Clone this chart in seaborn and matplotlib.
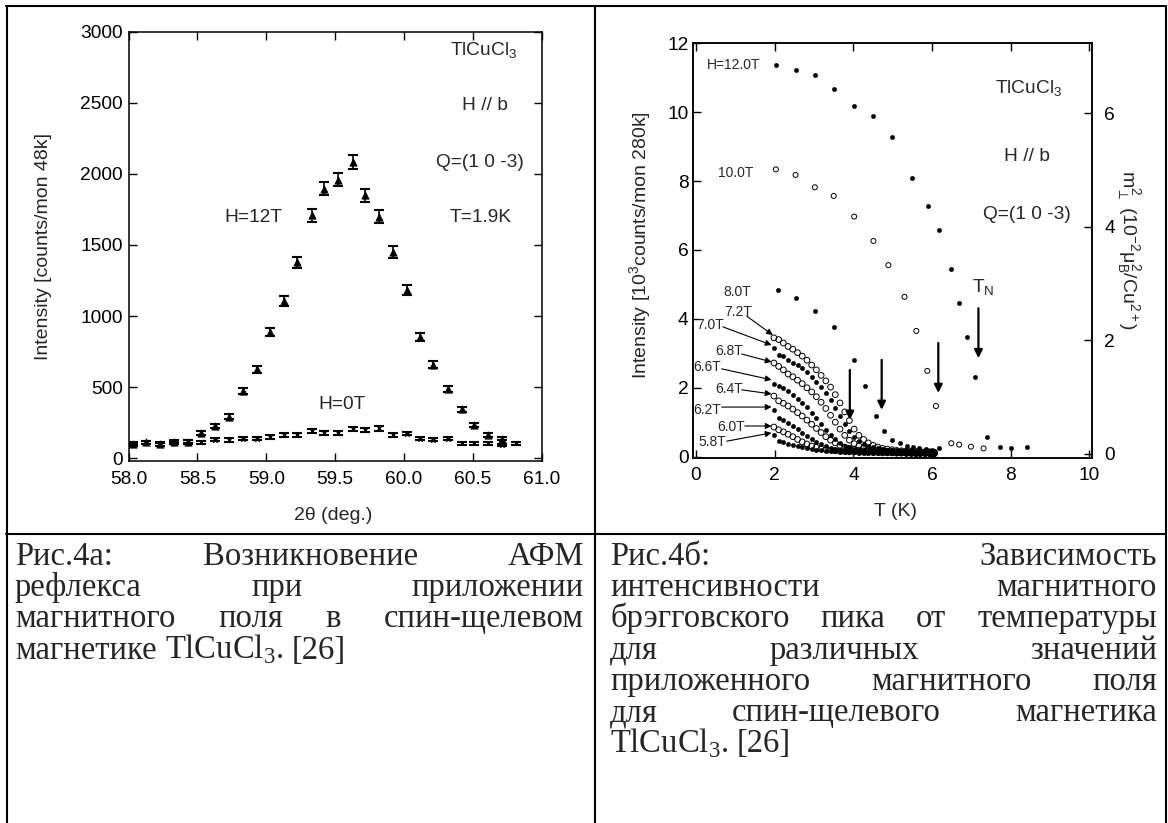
import matplotlib
matplotlib.use("Agg")
import matplotlib.pyplot as plt
from matplotlib.lines import Line2D
import seaborn as sns

# ---------------- panel (a): 2theta scans ----------------
two_theta_12T = [58.03, 58.13, 58.23, 58.33, 58.43, 58.53, 58.63, 58.73, 58.83, 58.93,
                 59.03, 59.13, 59.22, 59.33, 59.42, 59.52, 59.63, 59.72, 59.82, 59.92,
                 60.02, 60.12, 60.21, 60.32, 60.42, 60.51, 60.61, 60.71]
intensity_12T = [98, 112, 102, 118, 115, 180, 227, 292, 472, 625,
                 889, 1106, 1378, 1708, 1895, 1958, 2084, 1848, 1700, 1450,
                 1181, 854, 660, 489, 344, 234, 164, 140]
error_12T = [12, 12, 12, 12, 12, 14, 16, 18, 22, 26,
             31, 35, 39, 44, 46, 47, 48, 46, 44, 40,
             36, 30, 27, 23, 19, 16, 13, 12]

two_theta_0T = [58.03, 58.13, 58.23, 58.33, 58.43, 58.53, 58.63, 58.73, 58.83, 58.93,
                59.03, 59.13, 59.22, 59.33, 59.42, 59.52, 59.63, 59.72, 59.82, 59.92,
                60.02, 60.12, 60.21, 60.32, 60.42, 60.51, 60.61, 60.71, 60.81]
intensity_0T = [102, 115, 100, 114, 116, 112, 133, 129, 140, 140,
                152, 164, 164, 192, 180, 180, 204, 199, 211, 164,
                175, 140, 133, 140, 105, 105, 105, 94, 105]
error_0T = [11, 11, 11, 11, 11, 11, 12, 12, 12, 12,
            13, 13, 13, 14, 14, 14, 14, 14, 15, 13,
            13, 12, 12, 12, 11, 11, 11, 10, 11]

# ---------------- panel (b): intensity vs temperature ----------------
T_12T = [2.03, 2.53, 3.02, 3.50, 4.02, 4.51, 4.99, 5.49, 5.89, 6.18, 6.47, 6.69,
         6.90, 7.08, 7.40, 7.72, 8.02, 8.41]
I_12T = [11.37, 11.22, 11.08, 10.67, 10.19, 9.89, 9.27, 8.10, 7.28, 6.58, 5.46, 4.47,
         3.48, 2.32, 0.58, 0.29, 0.24, 0.29]

T_10T = [2.03, 2.53, 3.02, 3.50, 4.02, 4.51, 4.89, 5.30, 5.60, 5.88, 6.10,
         6.49, 6.69, 6.99, 7.31]
I_10T = [8.34, 8.18, 7.82, 7.57, 6.97, 6.26, 5.56, 4.64, 3.65, 2.49, 1.47,
         0.39, 0.35, 0.29, 0.24]

T_8T = [2.08, 2.55, 3.03, 3.52, 4.02, 4.30, 4.58, 4.78, 4.99, 5.19, 5.36, 5.52,
        5.68, 5.84, 6.00, 6.18]
I_8T = [4.84, 4.62, 4.23, 3.77, 2.81, 2.06, 1.19, 0.75, 0.48, 0.39, 0.31, 0.27,
        0.24, 0.22, 0.20, 0.25]

# dense scans at lower fields share one temperature list
T_dense = [1.98, 2.10, 2.22, 2.34, 2.46, 2.58, 2.70, 2.82, 2.94, 3.06, 3.18, 3.30,
           3.42, 3.54, 3.66, 3.78, 3.90, 4.02, 4.14, 4.26, 4.38, 4.50, 4.62, 4.74,
           4.86, 4.98, 5.10, 5.22, 5.34, 5.46, 5.58, 5.70, 5.82, 5.94, 6.06]
I_7_2T = [3.45, 3.40, 3.30, 3.20, 3.12, 3.02, 2.92, 2.80, 2.66, 2.52, 2.36, 2.20,
          2.02, 1.80, 1.56, 1.30, 1.05, 0.80, 0.62, 0.50, 0.40, 0.33, 0.28, 0.24,
          0.22, 0.20, 0.18, 0.17, 0.16, 0.16, 0.15, 0.15, 0.14, 0.14, 0.13]
I_7_0T = [3.15, 2.95, 2.93, 2.82, 2.72, 2.66, 2.56, 2.45, 2.32, 2.18, 2.02, 1.85,
          1.65, 1.42, 1.18, 0.95, 0.74, 0.58, 0.46, 0.38, 0.32, 0.27, 0.24, 0.21,
          0.19, 0.18, 0.17, 0.16, 0.15, 0.15, 0.14, 0.14, 0.13, 0.13, 0.12]
I_6_8T = [2.72, 2.62, 2.52, 2.40, 2.32, 2.22, 2.12, 2.00, 1.88, 1.74, 1.58, 1.40,
          1.20, 1.00, 0.80, 0.62, 0.48, 0.38, 0.31, 0.26, 0.23, 0.20, 0.18, 0.17,
          0.16, 0.15, 0.15, 0.14, 0.14, 0.13, 0.13, 0.12, 0.12, 0.12, 0.11]
I_6_6T = [2.10, 2.05, 1.98, 1.90, 1.80, 1.68, 1.56, 1.43, 1.28, 1.12, 0.95, 0.78,
          0.62, 0.50, 0.40, 0.32, 0.27, 0.23, 0.20, 0.18, 0.17, 0.16, 0.15, 0.14,
          0.14, 0.13, 0.13, 0.12, 0.12, 0.12, 0.11, 0.11, 0.11, 0.10, 0.10]
I_6_4T = [1.76, 1.62, 1.55, 1.47, 1.38, 1.28, 1.18, 1.06, 0.94, 0.82, 0.70, 0.58,
          0.48, 0.40, 0.33, 0.28, 0.24, 0.21, 0.19, 0.17, 0.16, 0.15, 0.14, 0.14,
          0.13, 0.13, 0.12, 0.12, 0.12, 0.11, 0.11, 0.11, 0.10, 0.10, 0.10]
I_6_2T = [1.36, 1.12, 1.05, 0.97, 0.88, 0.80, 0.70, 0.60, 0.51, 0.43, 0.36, 0.30,
          0.26, 0.23, 0.20, 0.18, 0.17, 0.16, 0.15, 0.14, 0.14, 0.13, 0.13, 0.12,
          0.12, 0.12, 0.11, 0.11, 0.11, 0.10, 0.10, 0.10, 0.10, 0.09, 0.09]
I_6_0T = [0.86, 0.78, 0.72, 0.65, 0.58, 0.50, 0.43, 0.37, 0.31, 0.27, 0.23, 0.21,
          0.19, 0.17, 0.16, 0.15, 0.14, 0.14, 0.13, 0.13, 0.12, 0.12, 0.12, 0.11,
          0.11, 0.11, 0.10, 0.10, 0.10, 0.10, 0.09, 0.09, 0.09, 0.09, 0.09]
I_5_8T = [0.62, 0.46, 0.42, 0.38, 0.34, 0.30, 0.27, 0.24, 0.21, 0.19, 0.18, 0.17,
          0.16, 0.15, 0.14, 0.14, 0.13, 0.13, 0.12, 0.12, 0.12, 0.11, 0.11, 0.11,
          0.10, 0.10, 0.10, 0.10, 0.09, 0.09, 0.09, 0.09, 0.08, 0.08, 0.08]

# field labels: (text, label x, label y, arrow start, arrow tip)
field_labels = [
    ("7.2T", 1.07, 4.20, (1.29, 4.08), (1.95, 3.53)),
    ("7.0T", 0.35, 3.82, (0.68, 3.77), (1.92, 3.24)),
    ("6.8T", 0.83, 3.07, (1.16, 2.98), (1.92, 2.75)),
    ("6.6T", 0.29, 2.60, (0.65, 2.55), (1.92, 2.23)),
    ("6.4T", 0.83, 1.97, (1.16, 1.94), (1.92, 1.82)),
    ("6.2T", 0.29, 1.36, (0.65, 1.44), (1.92, 1.44)),
    ("6.0T", 0.89, 0.86, (1.24, 0.89), (1.92, 0.89)),
    ("5.8T", 0.42, 0.43, (0.78, 0.45), (1.92, 0.69)),
]
# Neel temperature arrows: (T, start I, end I)
tn_arrows = [(3.91, 2.52, 1.07), (4.72, 2.81, 1.36), (6.16, 3.30, 1.85), (7.18, 4.31, 2.86)]

# ---------------- styling ----------------
W, H = 1168, 823
SANS = "Liberation Sans"
SERIF = "Liberation Serif"
sns.set_theme(style="ticks")
plt.rcParams.update({
    "font.family": [SANS, "DejaVu Sans"],
    "mathtext.fontset": "custom",
    "mathtext.rm": SERIF,
    "mathtext.sf": SANS,
    "mathtext.it": SANS + ":italic",
    "axes.edgecolor": "black",
    "axes.linewidth": 1.1,
    "xtick.color": "black",
    "ytick.color": "black",
    "xtick.direction": "in",
    "ytick.direction": "in",
    "xtick.major.size": 5.5,
    "ytick.major.size": 5.5,
    "xtick.major.width": 1.0,
    "ytick.major.width": 1.0,
})
TICK_FS = 13.8
LAB_FS = 14

fig = plt.figure(figsize=(W / 100, H / 100), dpi=100)
fig.patch.set_facecolor("white")


def px_axes(x0, y0, x1, y1):
    return fig.add_axes([x0 / W, 1 - y1 / H, (x1 - x0) / W, (y1 - y0) / H])


# ---------- panel (a) ----------
axa = px_axes(128.5, 31.5, 541.7, 461)
axa.errorbar(two_theta_0T, intensity_0T, yerr=error_0T, fmt="none", ecolor="black",
             elinewidth=1.2, capsize=3.4, capthick=1.5, zorder=2)
sns.scatterplot(x=two_theta_0T, y=intensity_0T, marker="x", s=10, color="black",
                linewidth=1.0, ax=axa, zorder=3)
axa.errorbar(two_theta_12T, intensity_12T, yerr=error_12T, fmt="none", ecolor="black",
             elinewidth=1.2, capsize=3.8, capthick=1.5, zorder=2)
sns.scatterplot(x=two_theta_12T, y=intensity_12T, marker="^", s=28, color="black",
                edgecolor="black", linewidth=0.5, ax=axa, zorder=3)
axa.set_xlim(58.0, 61.0)
axa.set_ylim(-18, 3000)
axa.set_xticks([58.0, 58.5, 59.0, 59.5, 60.0, 60.5, 61.0])
axa.set_xticklabels(["58.0", "58.5", "59.0", "59.5", "60.0", "60.5", "61.0"])
axa.set_yticks([0, 500, 1000, 1500, 2000, 2500, 3000])
axa.tick_params(axis="x", labelsize=TICK_FS, pad=7, top=True)
axa.tick_params(axis="y", labelsize=TICK_FS, pad=4, right=True)
axa.set_xlabel("")
axa.set_ylabel("")
for txt, x, y in [("TlCuCl$_{\\mathsf{3}}$", 60.58, 2870), ("H // b", 60.59, 2480),
                  ("Q=(1 0 -3)", 60.55, 2082), ("T=1.9K", 60.56, 1691),
                  ("H=12T", 58.91, 1691), ("H=0T", 59.55, 381)]:
    axa.text(x, y, txt, fontsize=TICK_FS, ha="center", va="center")

# ---------- panel (b) ----------
axb = px_axes(693.3, 43.3, 1091.7, 457.7)
filled = dict(marker="o", s=10, color="black", edgecolor="black", linewidth=0.3)
hollow = dict(marker="o", s=17, facecolor="none", edgecolor="black", linewidth=0.7)
hollow_small = dict(marker="o", s=13, facecolor="none", edgecolor="black", linewidth=0.7)
sns.scatterplot(x=T_12T, y=I_12T, ax=axb, **filled)
sns.scatterplot(x=T_10T, y=I_10T, ax=axb, **hollow_small)
sns.scatterplot(x=T_8T, y=I_8T, ax=axb, **filled)
for vals, style in [(I_7_2T, hollow), (I_7_0T, filled), (I_6_8T, hollow), (I_6_6T, filled),
                    (I_6_4T, hollow), (I_6_2T, filled), (I_6_0T, hollow), (I_5_8T, filled)]:
    sns.scatterplot(x=T_dense, y=vals, ax=axb, **style)
axb.set_xlim(-0.07, 10.06)
axb.set_ylim(-0.03, 12)
axb.set_xticks([0, 2, 4, 6, 8, 10])
axb.set_yticks([0, 2, 4, 6, 8, 10, 12])
axb.tick_params(axis="x", labelsize=TICK_FS, pad=6.5, top=True)
axb.tick_params(axis="y", labelsize=TICK_FS, pad=3.5)
axb.set_xlabel("")
axb.set_ylabel("")

axb.text(0.95, 11.37, "H=12.0T", fontsize=10, ha="center", va="center")
axb.text(1.00, 8.24, "10.0T", fontsize=10, ha="center", va="center")
axb.text(1.06, 4.78, "8.0T", fontsize=10, ha="center", va="center")
for txt, lx, ly, start, tip in field_labels:
    axb.text(lx, ly, txt, fontsize=10, ha="center", va="center")
    axb.annotate("", xy=tip, xytext=start,
                 arrowprops=dict(arrowstyle="-|>", color="black", lw=0.8,
                                 mutation_scale=9, shrinkA=0, shrinkB=0))
for t, y0, y1 in tn_arrows:
    axb.annotate("", xy=(t, y1), xytext=(t, y0),
                 arrowprops=dict(arrowstyle="-|>", color="black", lw=1.6,
                                 mutation_scale=12, shrinkA=0, shrinkB=0))
axb.text(7.29, 4.92, "T$_{\\mathsf{N}}$", fontsize=TICK_FS, ha="center", va="center")
axb.text(8.45, 10.7, "TlCuCl$_{\\mathsf{3}}$", fontsize=TICK_FS, ha="center", va="center")
axb.text(8.42, 8.70, "H // b", fontsize=TICK_FS, ha="center", va="center")
axb.text(8.42, 7.02, "Q=(1 0 -3)", fontsize=TICK_FS, ha="center", va="center")

axr = axb.twinx()
axr.set_ylim(-0.074, 7.23)
axr.set_yticks([0, 2, 4, 6])
axr.tick_params(axis="y", labelsize=TICK_FS, pad=9, direction="in")

# axis titles
fig.text(44 / W, 1 - 246 / H, "Intensity [counts/mon 48k]", rotation=90,
         fontsize=LAB_FS, ha="center", va="center")
fig.text(333 / W, 1 - 515 / H, "2θ (deg.)", fontsize=LAB_FS, ha="center", va="center")
fig.text(640 / W, 1 - 245 / H, "Intensity [10$^{\\mathsf{3}}$counts/mon 280k]", rotation=90,
         fontsize=LAB_FS, ha="center", va="center")
fig.text(895 / W, 1 - 511 / H, "T (K)", fontsize=LAB_FS, ha="center", va="center")
fig.text(1128 / W, 1 - 250 / H,
         "m$_{\\perp}^{\\mathsf{2}}$ (10$^{\\mathsf{-2}}$μ$_{\\mathsf{B}}^{\\mathsf{2}}$/Cu$^{\\mathsf{2+}}$)",
         rotation=-90, fontsize=LAB_FS, ha="center", va="center")

# ---------- table frame ----------
def hline(y, x0, x1):
    fig.add_artist(Line2D([x0 / W, x1 / W], [1 - y / H, 1 - y / H], color="black", lw=1.5))


def vline(x, y0, y1):
    fig.add_artist(Line2D([x / W, x / W], [1 - y0 / H, 1 - y1 / H], color="black", lw=1.5))


hline(6, 6, 1166)
hline(534, 6, 1166)
vline(6.5, 6, 823)
vline(594.5, 6, 823)
vline(1165.5, 6, 823)

# ---------- captions ----------
CAP_FS = 23.5
renderer = fig.canvas.get_renderer()
space_px = 0.25 * CAP_FS * 100 / 72


def caption_line(words, x0, x1, ybase, justify=True):
    arts = [fig.text(0, 1 - ybase / H, w, fontsize=CAP_FS, family=SERIF,
                     ha="left", va="baseline") for w in words]
    widths = [a.get_window_extent(renderer).width for a in arts]
    if justify and len(words) > 1:
        gap = (x1 - x0 - sum(widths)) / (len(words) - 1)
    else:
        gap = space_px
    x = x0
    for a, w in zip(arts, widths):
        a.set_x(x / W)
        x += w + gap


left_caption = [
    (["Рис.4а:", "Возникновение", "АФМ"], True),
    (["рефлекса", "при", "приложении"], True),
    (["магнитного", "поля", "в", "спин-щелевом"], True),
    (["магнетике", "TlCuCl$_{\\mathrm{3}}$.", "[26]"], False),
]
right_caption = [
    (["Рис.4б:", "Зависимость"], True),
    (["интенсивности", "магнитного"], True),
    (["брэгговского", "пика", "от", "температуры"], True),
    (["для", "различных", "значений"], True),
    (["приложенного", "магнитного", "поля"], True),
    (["для", "спин-щелевого", "магнетика"], True),
    (["TlCuCl$_{\\mathrm{3}}$.", "[26]"], False),
]
for i, (words, just) in enumerate(left_caption):
    caption_line(words, 15, 584, 565 + 31.2 * i, just)
for i, (words, just) in enumerate(right_caption):
    caption_line(words, 610, 1157, 565 + 31.2 * i, just)

fig.savefig("out.png", dpi=100, facecolor="white")
